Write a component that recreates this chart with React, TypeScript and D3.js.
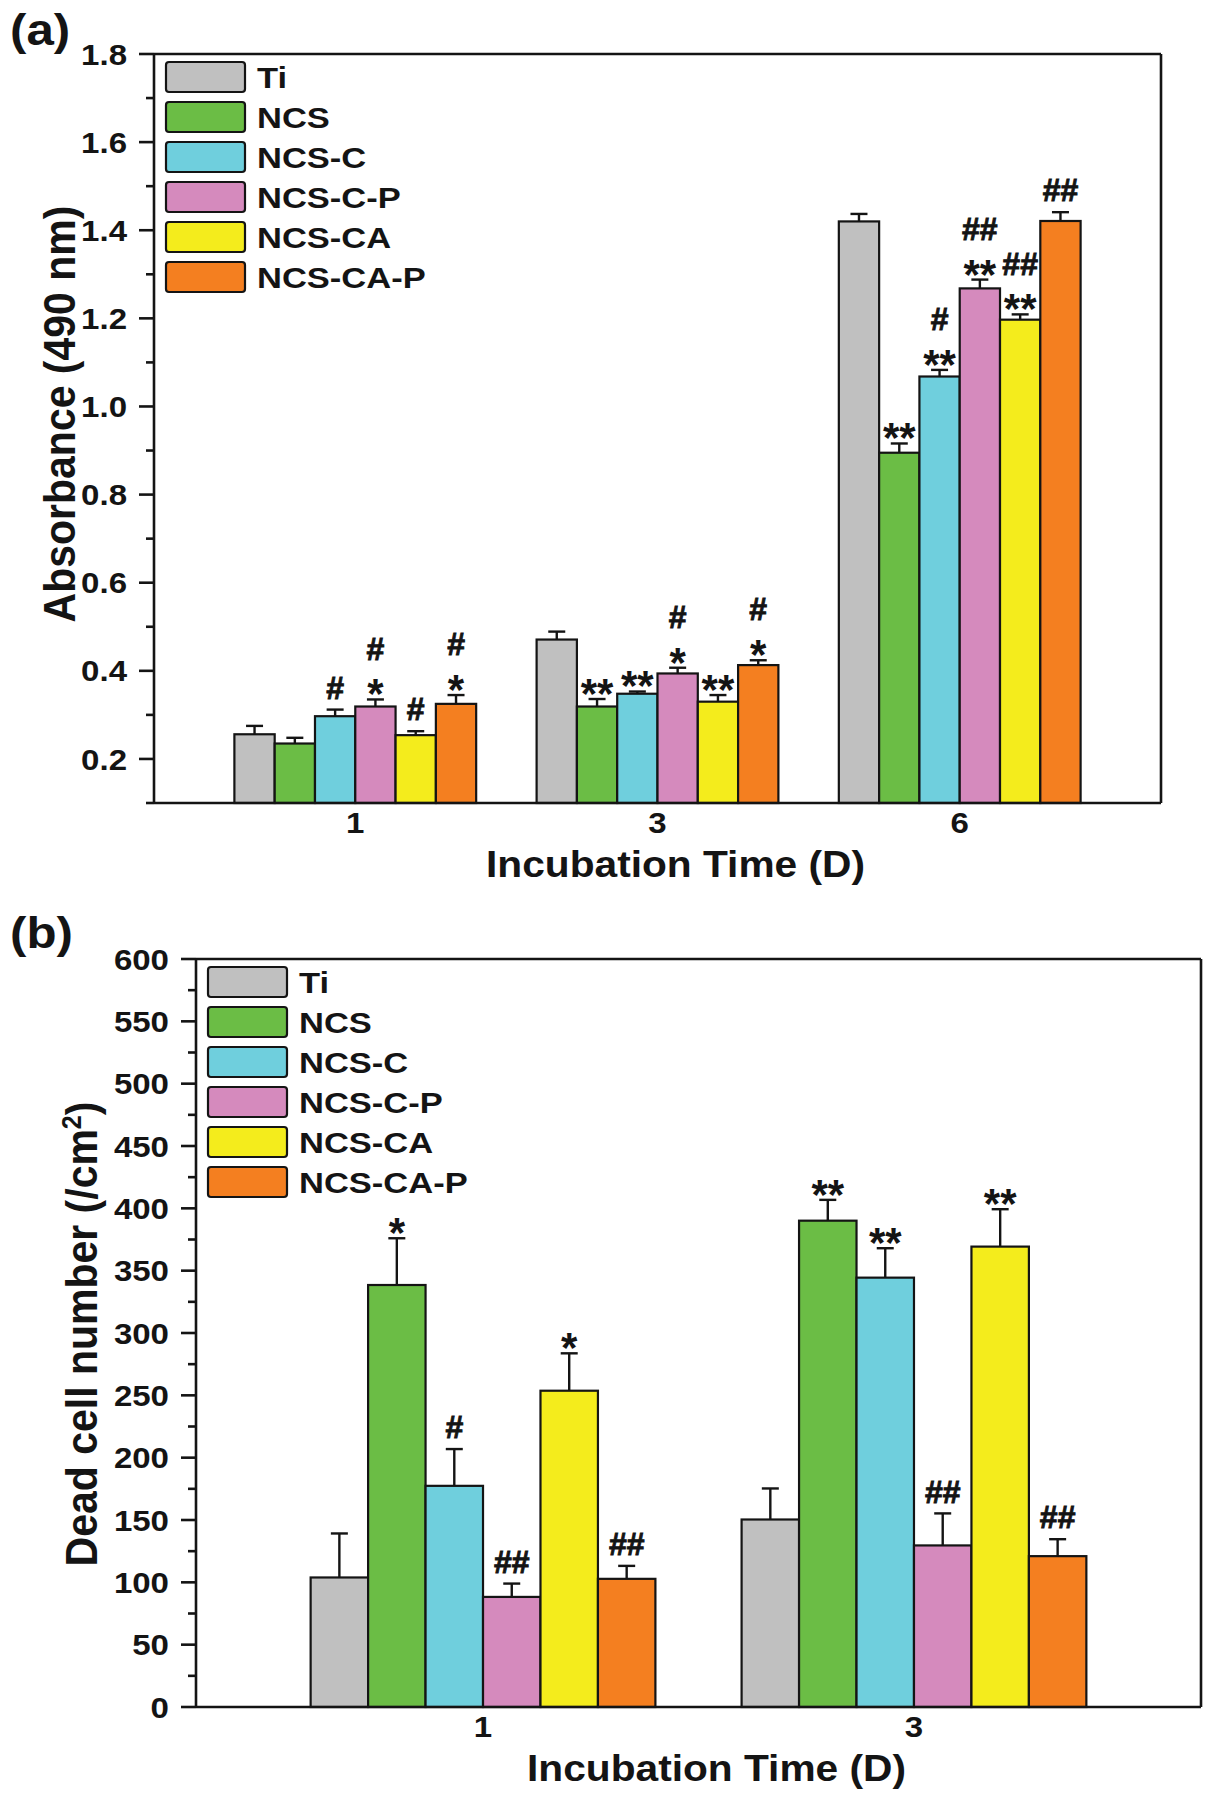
import React, { useLayoutEffect } from 'react';
import * as d3 from 'd3';

// ---------- shared series ----------
const seriesNames = ['Ti', 'NCS', 'NCS-C', 'NCS-C-P', 'NCS-CA', 'NCS-CA-P'];
const seriesColors = ['#c0c0c0', '#6bbd45', '#6fcfdd', '#d58abd', '#f4ec1c', '#f47f20'];

// ---------- panel (a): absorbance ----------
const daysA = ['1', '3', '6'];
const absTi = [0.256, 0.471, 1.42];
const absNCS = [0.235, 0.319, 0.895];
const absNCSC = [0.297, 0.348, 1.068];
const absNCSCP = [0.319, 0.394, 1.268];
const absNCSCA = [0.254, 0.33, 1.197];
const absNCSCAP = [0.325, 0.413, 1.421];
const errAbsTi = [0.019, 0.018, 0.017];
const errAbsNCS = [0.013, 0.017, 0.021];
const errAbsNCSC = [0.015, 0.005, 0.015];
const errAbsNCSCP = [0.016, 0.013, 0.02];
const errAbsNCSCA = [0.009, 0.015, 0.012];
const errAbsNCSCAP = [0.02, 0.011, 0.02];
const sigA_Ti = [[], [], []];
const sigA_NCS = [[], ['**'], ['**']];
const sigA_NCSC = [['#'], ['**'], ['**', '#']];
const sigA_NCSCP = [['*', '#'], ['*', '#'], ['**', '##']];
const sigA_NCSCA = [['#'], ['**'], ['**', '##']];
const sigA_NCSCAP = [['*', '#'], ['*', '#'], ['##']];
const ticksA = [0.2, 0.4, 0.6, 0.8, 1.0, 1.2, 1.4, 1.6, 1.8];
const minorA = [0.1, 0.3, 0.5, 0.7, 0.9, 1.1, 1.3, 1.5, 1.7];

// ---------- panel (b): dead cells ----------
const daysB = ['1', '3'];
const deadTi = [103.9, 150.4];
const deadNCS = [338.5, 390.1];
const deadNCSC = [177.4, 344.4];
const deadNCSCP = [88.3, 129.6];
const deadNCSCA = [253.7, 369.3];
const deadNCSCAP = [102.8, 121.0];
const errDeadTi = [35.3, 24.9];
const errDeadNCS = [37.5, 16.7];
const errDeadNCSC = [29.5, 23.6];
const errDeadNCSCP = [10.7, 25.7];
const errDeadNCSCA = [30.0, 30.0];
const errDeadNCSCAP = [10.4, 13.6];
const sigB_Ti = [[], []];
const sigB_NCS = [['*'], ['**']];
const sigB_NCSC = [['#'], ['**']];
const sigB_NCSCP = [['##'], ['##']];
const sigB_NCSCA = [['*'], ['**']];
const sigB_NCSCAP = [['##'], ['##']];
const ticksB = [0, 50, 100, 150, 200, 250, 300, 350, 400, 450, 500, 550, 600];
const minorB = [25, 75, 125, 175, 225, 275, 325, 375, 425, 475, 525, 575];

const FONT = "'Liberation Sans', Arial, Helvetica, sans-serif";
const INK = '#141414';

type TProps = {
  x: number; y: number; size: number; sx?: number; sy?: number; rot?: number;
  anchor?: 'start' | 'middle' | 'end'; weight?: string; outline?: number; children: React.ReactNode;
};
const T = ({ x, y, size, sx = 1, sy = 1, rot = 0, anchor = 'start', weight = 'bold', outline = 0, children }: TProps) => (
  <text
    transform={`translate(${x},${y}) rotate(${rot}) scale(${sx},${sy})`}
    textAnchor={anchor}
    fontSize={size}
    fontWeight={weight}
    fontFamily={FONT}
    fill={INK}
    stroke={outline ? INK : 'none'}
    strokeWidth={outline}
  >
    {children}
  </text>
);

type PanelProps = {
  days: string[];
  values: number[][];
  errors: number[][];
  sigs: string[][][];
  domain: [number, number];
  ticks: number[];
  minor: number[];
  fmt: (v: number) => string;
  box: { left: number; right: number; top: number; bottom: number };
  label: string;
  labelPos: [number, number];
  yTitle: React.ReactNode;
  yTitleX: number;
  yTitleY: number;
};

function Panel(p: PanelProps) {
  const { left, right, top, bottom } = p.box;
  const x = d3.scalePoint<string>().domain(p.days).range([left, right]).padding(0.666);
  const step = x.step();
  const inner = d3.scaleBand<string>().domain(seriesNames).range([0, step * 0.8]).padding(0);
  const bw = inner.bandwidth();
  const y = d3.scaleLinear().domain(p.domain).range([bottom, top]);

  const bars: React.ReactNode[] = [];
  const errs: React.ReactNode[] = [];
  const notes: React.ReactNode[] = [];
  p.days.forEach((d, di) => {
    const gx = (x(d) as number) - step * 0.4;
    seriesNames.forEach((s, si) => {
      const v = p.values[si][di];
      const e = p.errors[si][di];
      const bx = gx + (inner(s) as number);
      const cx = bx + bw / 2;
      bars.push(
        <rect key={`b${d}${s}`} x={bx} y={y(v)} width={bw} height={y(p.domain[0]) - y(v)}
          fill={seriesColors[si]} stroke={INK} strokeWidth={2.2} />
      );
      const cap = y(v + e);
      errs.push(
        <g key={`e${d}${s}`} stroke={INK} strokeWidth={2.4}>
          <line x1={cx} x2={cx} y1={y(v)} y2={cap} />
          <line x1={cx - 8.5} x2={cx + 8.5} y1={cap} y2={cap} />
        </g>
      );
      let center = cap;
      p.sigs[si][di].forEach((txt, li) => {
        const star = txt.startsWith('*');
        if (li === 0) center = cap - (star ? 15 : 22);
        else center = center - 36;
        const fs = star ? 42 : 32;
        const base = center + (star ? 0.57 : 0.35) * fs;
        notes.push(
          <T key={`n${d}${s}${li}`} x={cx} y={base} size={fs} anchor="middle" outline={star ? 0 : 0.9}>{txt}</T>
        );
      });
    });
  });

  return (
    <g>
      {bars}
      {errs}
      {notes}
      {/* frame */}
      <g stroke={INK} strokeWidth={2.6} fill="none">
        <line x1={left} x2={right} y1={top} y2={top} />
        <line x1={right} x2={right} y1={top} y2={bottom} />
        <line x1={left} x2={left} y1={top} y2={bottom} />
        <line x1={left} x2={right} y1={bottom} y2={bottom} />
        {p.ticks.map((t) => (
          <line key={`t${t}`} x1={left - 15} x2={left} y1={y(t)} y2={y(t)} />
        ))}
        {p.minor.map((t) => (
          <line key={`m${t}`} x1={left - 8} x2={left} y1={y(t)} y2={y(t)} />
        ))}
      </g>
      {p.ticks.map((t) => (
        <T key={`l${t}`} x={left - 27} y={y(t) + 10.6} size={29.5} sx={1.12} anchor="end">{p.fmt(t)}</T>
      ))}
      {p.days.map((d) => (
        <T key={`x${d}`} x={x(d) as number} y={bottom + 30} size={29.5} sx={1.12} anchor="middle">{d}</T>
      ))}
      {/* legend */}
      {seriesNames.map((s, i) => (
        <g key={`lg${s}`}>
          <rect x={left + 12} y={top + 8 + i * 40} width={79} height={30} rx={3}
            fill={seriesColors[i]} stroke={INK} strokeWidth={2.2} />
          <T x={left + 103} y={top + 8 + i * 40 + 25.5} size={29.5} sx={1.17}>{s}</T>
        </g>
      ))}
      {/* titles */}
      <T x={(left + right) / 2 + 18} y={bottom + 74} size={37} sx={1.1} anchor="middle">Incubation Time (D)</T>
      <T x={p.yTitleX} y={p.yTitleY} size={41} rot={-90} sy={1.1} anchor="middle">{p.yTitle}</T>
      <T x={p.labelPos[0]} y={p.labelPos[1]} size={44} sx={1.12}>{p.label}</T>
    </g>
  );
}

export default function App() {
  useLayoutEffect(() => {
    document.body.style.margin = '0';
    document.body.style.background = '#ffffff';
  }, []);
  const fmtA = d3.format('.1f');
  const fmtB = d3.format('d');
  return (
    <svg width={1212} height={1800} viewBox="0 0 1212 1800" style={{ display: 'block', background: '#fff' }}>
      <rect x={0} y={0} width={1212} height={1800} fill="#fff" />
      <Panel
        days={daysA}
        values={[absTi, absNCS, absNCSC, absNCSCP, absNCSCA, absNCSCAP]}
        errors={[errAbsTi, errAbsNCS, errAbsNCSC, errAbsNCSCP, errAbsNCSCA, errAbsNCSCAP]}
        sigs={[sigA_Ti, sigA_NCS, sigA_NCSC, sigA_NCSCP, sigA_NCSCA, sigA_NCSCAP]}
        domain={[0.1, 1.8]}
        ticks={ticksA}
        minor={minorA}
        fmt={fmtA}
        box={{ left: 154, right: 1161, top: 54, bottom: 803 }}
        label="(a)"
        labelPos={[10, 45]}
        yTitle="Absorbance (490 nm)"
        yTitleX={75}
        yTitleY={414}
      />
      <Panel
        days={daysB}
        values={[deadTi, deadNCS, deadNCSC, deadNCSCP, deadNCSCA, deadNCSCAP]}
        errors={[errDeadTi, errDeadNCS, errDeadNCSC, errDeadNCSCP, errDeadNCSCA, errDeadNCSCAP]}
        sigs={[sigB_Ti, sigB_NCS, sigB_NCSC, sigB_NCSCP, sigB_NCSCA, sigB_NCSCAP]}
        domain={[0, 600]}
        ticks={ticksB}
        minor={minorB}
        fmt={fmtB}
        box={{ left: 196, right: 1201, top: 959, bottom: 1707 }}
        label="(b)"
        labelPos={[10, 948]}
        yTitle={<>
          <tspan>Dead cell number (/cm</tspan>
          <tspan dy={-15} fontSize={25}>2</tspan>
          <tspan dy={15}>)</tspan>
        </>}
        yTitleX={97}
        yTitleY={1334}
      />
    </svg>
  );
}
